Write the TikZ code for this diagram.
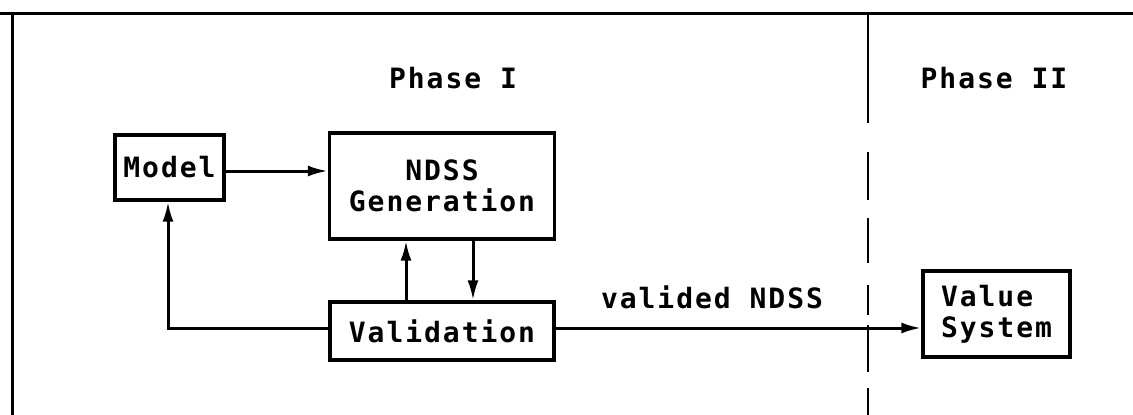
\documentclass[tikz,border=0pt]{standalone}
\usepackage{fontspec}
\newfontfamily\dmono[LetterSpace=7]{DejaVu Sans Mono}
\usetikzlibrary{arrows.meta}
\begin{document}
\begin{tikzpicture}[x=1pt,y=-1pt,
  every node/.style={font=\dmono\bfseries\fontsize{28}{31}\selectfont},
  blk/.style={draw,line width=3.4pt,inner sep=0pt,align=center},
  arr/.style={line width=3pt,-{Latex[length=20pt,width=11pt]}},
  frame/.style={line width=3pt},
  sep/.style={line width=2.2pt,dash pattern=on 110pt off 29pt on 48pt off 18pt on 45pt off 22pt on 30pt off 10pt on 47pt off 16pt on 60pt off 5pt}]
\useasboundingbox (0,0) rectangle (1133,415);
% frame
\coordinate (tl) at (0,13);
\coordinate (tr) at (1133,13);
\coordinate (lc) at (12,13);
\coordinate (lb) at (12,415);
\coordinate (dt) at (868,13);
\coordinate (db) at (868,415);
\draw[frame] (tl) -- (tr);
\draw[frame] (lc) -- (lb);
\draw[sep] (dt) -- (db);
% titles
\node (p1) at (453,78) {Phase I};
\node (p2) at (994,78) {Phase II};
% blocks
\node[blk,minimum width=109pt,minimum height=65pt] (model) at (169.5,167.5) {Model};
\node[blk,minimum width=225pt,minimum height=106pt] (gen) at (442,186) {NDSS\\Generation};
\node[blk,minimum width=224pt,minimum height=58pt] (val) at (442,331) {Validation};
\node[blk,minimum width=147pt,minimum height=86pt,align=left] (vs) at (996.5,314) {Value\\System};
\node (lbl) at (712,297) {valided NDSS};
% connectors
\draw[arr] ([yshift=-3.5pt]model.east) -- ([yshift=-3.5pt]model.east -| gen.west);
\draw[arr] ([yshift=3pt]val.west) -| ([xshift=-1.5pt]model.south);
\draw[arr] ([xshift=-36pt]val.north) -- ([xshift=-36pt]gen.south);
\draw[arr] ([xshift=31pt]gen.south) -- ([xshift=31pt]gen.south |- val.north);
\draw[arr] ([yshift=3pt]val.east) -- ([yshift=3pt]val.east -| vs.west);
\end{tikzpicture}
\end{document}
